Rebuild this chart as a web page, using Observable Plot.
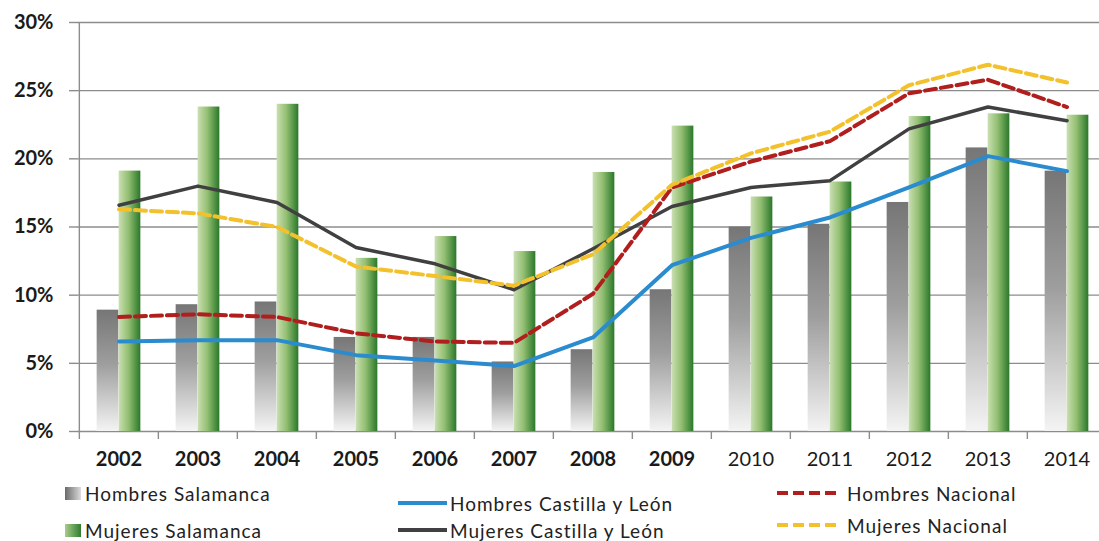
<!DOCTYPE html>
<html><head><meta charset="utf-8">
<script src="https://cdn.jsdelivr.net/npm/d3@7"></script>
<script src="https://cdn.jsdelivr.net/npm/@observablehq/plot@0.6"></script>
<style>
body{margin:0;background:#fff;overflow:hidden}
#wrap{position:relative;width:1099px;height:541px;overflow:hidden;font-family:Lato,"Open Sans",sans-serif}
#legend{position:absolute;left:0;top:475px;width:1099px;height:66px}
.li{position:absolute;display:flex;align-items:center;height:20px;font-size:19px;color:#222;white-space:nowrap;letter-spacing:1px}
</style></head><body><div id="wrap"><div id="chart"></div><div id="legend"></div></div>
<script>
const years = ["2002","2003","2004","2005","2006","2007","2008","2009","2010","2011","2012","2013","2014"];
const hombresSalamanca = [8.9,9.3,9.5,6.9,6.9,5.1,6.0,10.4,15.0,15.2,16.8,20.8,19.1];
const mujeresSalamanca = [19.1,23.8,24.0,12.7,14.3,13.2,19.0,22.4,17.2,18.3,23.1,23.3,23.2];
const hombresCyL = [6.6,6.7,6.7,5.6,5.2,4.8,6.9,12.2,14.2,15.7,17.9,20.2,19.1];
const mujeresCyL = [16.6,18.0,16.8,13.5,12.3,10.4,13.4,16.5,17.9,18.4,22.2,23.8,22.8];
const hombresNacional = [8.4,8.6,8.4,7.2,6.6,6.5,10.1,17.9,19.8,21.3,24.8,25.8,23.8];
const mujeresNacional = [16.3,16.0,15.0,12.1,11.4,10.7,13.0,18.1,20.4,22.0,25.4,26.9,25.6];
const yTicks = [0,5,10,15,20,25,30];
const boldYears = years.slice(0, 8);
const plainYears = years.slice(8);
const legendItems = [
  {label: "Hombres Salamanca", kind: "gray", left: 65, cy: 493},
  {label: "Mujeres Salamanca", kind: "green", left: 65, cy: 530},
  {label: "Hombres Castilla y León", kind: "line", color: "#2a8bcf", left: 398, cy: 503},
  {label: "Mujeres Castilla y León", kind: "line", color: "#404040", left: 398, cy: 530},
  {label: "Hombres Nacional", kind: "dash", color: "#b11e1e", left: 777, cy: 493},
  {label: "Mujeres Nacional", kind: "dash", color: "#f3c12c", left: 777, cy: 525}
];

const W = 1099, H = 475, ML = 77, MR = -9, MT = 22, MB = 44;
const bw = (W - ML - MR) / years.length;
const gridColor = "#8c8c8c";

const plot = Plot.plot({
  width: W, height: H,
  marginLeft: ML, marginRight: MR, marginTop: MT, marginBottom: MB,
  style: {fontFamily: "Lato, 'Open Sans', sans-serif", background: "#fff", overflow: "hidden"},
  x: {type: "band", domain: years, padding: 0, axis: null},
  y: {domain: [0, 30], axis: null},
  marks: [
    Plot.gridY(yTicks, {stroke: gridColor, strokeOpacity: 1, strokeWidth: 1.4}),
    Plot.axisY(yTicks, {tickSize: 8, tickPadding: 16, tickFormat: d => d + "%", fontSize: 20, fontWeight: "bold", fill: "#1a1a1a", stroke: gridColor, strokeWidth: 1.4}),
    Plot.ruleX([years[0]], {x: d => d, dx: -bw / 2, y1: 0, y2: 30, stroke: gridColor, strokeWidth: 1.4}),
    Plot.ruleX(years, {x: d => d, dx: -bw / 2, y1: 0, y2: 0, insetBottom: -8, stroke: gridColor, strokeWidth: 1.4}),
    Plot.barY(years, {x: d => d, y: (d, i) => hombresSalamanca[i], fill: "url(#gGray)", insetLeft: bw / 2 - 22, insetRight: bw / 2}),
    Plot.barY(years, {x: d => d, y: (d, i) => mujeresSalamanca[i], fill: "url(#gGreen)", insetLeft: bw / 2, insetRight: bw / 2 - 22}),
    Plot.line(years, {x: d => d, y: (d, i) => hombresCyL[i], stroke: "#2a8bcf", strokeWidth: 4}),
    Plot.line(years, {x: d => d, y: (d, i) => mujeresCyL[i], stroke: "#404040", strokeWidth: 3.5}),
    Plot.line(years, {x: d => d, y: (d, i) => hombresNacional[i], stroke: "#b11e1e", strokeWidth: 4, strokeDasharray: "11,5"}),
    Plot.line(years, {x: d => d, y: (d, i) => mujeresNacional[i], stroke: "#f3c12c", strokeWidth: 4, strokeDasharray: "11,5"}),
    Plot.axisX(boldYears, {tickSize: 0, tickPadding: 20, fontSize: 20, fontWeight: "bold", fill: "#1a1a1a"}),
    Plot.axisX(plainYears, {tickSize: 0, tickPadding: 20, fontSize: 20, fontWeight: "normal", fill: "#1a1a1a"})
  ]
});

const defs = d3.select(plot).insert("defs", ":first-child");
const gg = defs.append("linearGradient").attr("id", "gGray").attr("x1", 0).attr("y1", 0).attr("x2", 0).attr("y2", 1);
[[0, "#767676"], [0.45, "#9e9e9e"], [1, "#f4f4f4"]].forEach(([o, c]) => gg.append("stop").attr("offset", o).attr("stop-color", c));
const gr = defs.append("linearGradient").attr("id", "gGreen").attr("x1", 0).attr("y1", 0).attr("x2", 1).attr("y2", 0);
[[0, "#cadfb2"], [0.45, "#93bf72"], [1, "#2a782a"]].forEach(([o, c]) => gr.append("stop").attr("offset", o).attr("stop-color", c));

document.getElementById("chart").appendChild(plot);

const leg = d3.select("#legend");
legendItems.forEach(it => {
  const d = leg.append("div").attr("class", "li").style("left", it.left + "px").style("top", (it.cy - 10 - 475) + "px");
  if (it.kind === "gray" || it.kind === "green") {
    d.append("span").style("display", "inline-block").style("width", "16px").style("height", "13px").style("margin-right", "4px")
      .style("background", it.kind === "gray" ? "linear-gradient(to right,#6a6a6a,#dcdcdc)" : "linear-gradient(to right,#a9cc8c,#2f7d2f)");
  } else {
    const lw = it.kind === "line" ? 49 : 61;
    const s = d.append("svg").attr("width", lw).attr("height", 8).style("margin-right", it.kind === "line" ? "3px" : "9px");
    s.append("line").attr("x1", 0).attr("x2", lw).attr("y1", 4).attr("y2", 4)
      .attr("stroke", it.color).attr("stroke-width", 4).attr("stroke-dasharray", it.kind === "dash" ? "11,5" : null);
  }
  d.append("span").text(it.label);
});
</script></body></html>
